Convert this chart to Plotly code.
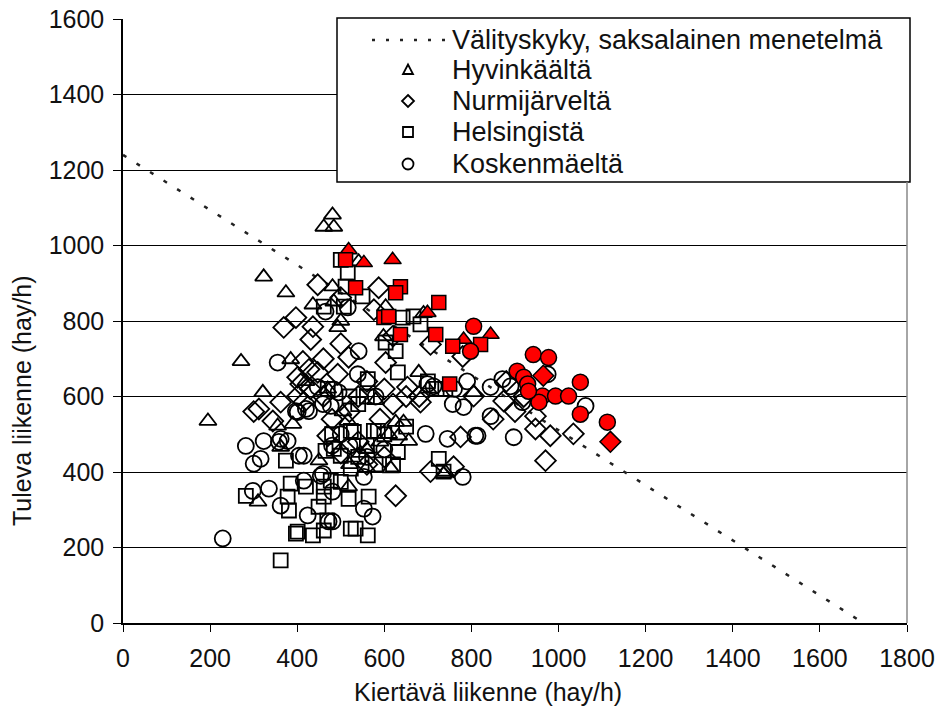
import plotly.graph_objects as go

# Capacity line (German method)
cap_x = [0, 1700]
cap_y = [1240, 0]

# Hyvinkäältä (open triangles)
hyv_x = [481, 461, 484, 323, 374, 481, 436, 541, 484, 603, 493, 271, 385, 321, 195, 355, 390, 362,
         310, 516, 598, 679, 805, 626, 644, 633, 656, 736, 615, 518, 740, 470, 580, 560, 520, 450,
         590, 700, 690, 500, 545, 610, 420, 505, 560]
hyv_y = [1081, 1049, 1049, 917, 875, 891, 843, 957, 851, 838, 783, 693, 698, 611, 535, 522, 527, 466,
         321, 535, 759, 664, 611, 532, 532, 496, 482, 395, 409, 361, 400, 620, 590, 460, 420, 430,
         480, 620, 820, 800, 450, 500, 640, 560, 410]

# Nurmijärveltä (open diamonds)
nur_x = [447, 397, 369, 436, 431, 413, 312, 362, 401, 344, 470, 587, 576, 500, 706, 518, 603, 780,
         653, 683, 805, 775, 706, 759, 626, 874, 947, 947, 981, 1034, 970, 427, 447, 493, 401, 408,
         415, 300, 540, 560, 600, 460, 520, 480, 590, 620, 650, 540, 500, 560, 600, 430, 880, 920,
         900, 500, 850, 620, 680, 460]
nur_y = [896, 809, 783, 785, 751, 693, 567, 585, 601, 535, 496, 888, 830, 862, 738, 704, 690, 706,
         625, 585, 601, 493, 401, 414, 337, 588, 548, 514, 496, 501, 430, 672, 664, 659, 651, 633,
         585, 560, 600, 640, 620, 600, 560, 540, 540, 580, 600, 480, 450, 420, 440, 620, 640, 600,
         560, 740, 540, 760, 600, 700]

# Helsingistä (open squares)
hel_x = [516, 500, 511, 550, 461, 507, 642, 667, 683, 603, 626, 631, 562, 530, 576, 585, 631, 725,
         736, 500, 518, 564, 534, 562, 374, 465, 385, 420, 282, 378, 381, 461, 461, 449, 397, 436,
         362, 523, 484, 500, 523, 477, 401, 461, 523, 469, 540, 560, 700, 720, 740, 600, 540, 620,
         480, 580, 650, 560, 470, 520]
hel_y = [928, 962, 891, 865, 838, 838, 809, 812, 791, 743, 720, 664, 646, 506, 509, 509, 453, 435,
         401, 374, 329, 335, 250, 232, 430, 456, 369, 361, 337, 335, 298, 361, 335, 308, 237, 232,
         166, 509, 461, 443, 409, 377, 242, 245, 250, 272, 580, 600, 640, 620, 620, 500, 440, 420,
         500, 420, 520, 470, 620, 600]

# Koskenmäeltä (open circles)
kos_x = [229, 282, 323, 358, 300, 316, 404, 415, 459, 415, 298, 335, 362, 424, 472, 355, 465, 516,
         541, 539, 484, 495, 447, 397, 420, 401, 427, 459, 477, 362, 378, 757, 782, 695, 745, 809,
         780, 553, 553, 573, 481, 481, 454, 699, 713, 814, 897, 844, 871, 890, 917, 1062, 975, 844,
         480, 520, 560, 600, 500, 580, 760, 790]
kos_y = [224, 469, 482, 480, 422, 435, 443, 443, 395, 377, 350, 356, 311, 285, 269, 690, 825, 836,
         720, 659, 619, 611, 625, 561, 567, 559, 561, 580, 575, 488, 482, 580, 572, 501, 488, 496,
         387, 387, 303, 282, 269, 348, 390, 633, 627, 496, 492, 625, 646, 627, 585, 575, 659, 548,
         470, 470, 440, 460, 500, 600, 620, 640]

# Red-filled observations
rtri_x = [518, 553, 619, 699, 782, 844]
rtri_y = [988, 954, 962, 822, 751, 764]
rsq_x = [511, 534, 637, 626, 725, 599, 610, 637, 718, 757, 750, 821]
rsq_y = [962, 888, 891, 875, 849, 809, 812, 764, 764, 733, 633, 738]
rcir_x = [805, 798, 942, 977, 905, 920, 929, 1050, 963, 993, 1023, 955, 1050, 1112, 931]
rcir_y = [786, 720, 711, 703, 667, 651, 633, 638, 601, 601, 601, 585, 553, 532, 614]
rdia_x = [1119, 965]
rdia_y = [480, 655]

x_ticks = [0, 200, 400, 600, 800, 1000, 1200, 1400, 1600, 1800]
y_ticks = [0, 200, 400, 600, 800, 1000, 1200, 1400, 1600]

legend_names = ["Välityskyky, saksalainen menetelmä", "Hyvinkäältä", "Nurmijärveltä",
                "Helsingistä", "Koskenmäeltä"]

FONT = "Liberation Sans, Arial, sans-serif"
TXT = "#111111"

fig = go.Figure()

fig.add_trace(go.Scatter(x=cap_x, y=cap_y, mode="lines", name=legend_names[0], showlegend=False,
                         line=dict(color="#222222", width=2.5, dash="4px,12px")))

open_series = [
    (legend_names[1], hyv_x, hyv_y, "triangle-up-open", 15),
    (legend_names[2], nur_x, nur_y, "diamond-open", 16),
    (legend_names[3], hel_x, hel_y, "square-open", 14),
    (legend_names[4], kos_x, kos_y, "circle-open", 16),
]
for name, xs, ys, sym, sz in open_series:
    fig.add_trace(go.Scatter(x=xs, y=ys, mode="markers", name=name, showlegend=False,
                             marker=dict(symbol=sym, size=sz, color="#000000",
                                         line=dict(width=1.8, color="#000000"))))

red_series = [
    (rtri_x, rtri_y, "triangle-up", 15),
    (rsq_x, rsq_y, "square", 14),
    (rcir_x, rcir_y, "circle", 16),
    (rdia_x, rdia_y, "diamond", 16),
]
for xs, ys, sym, sz in red_series:
    fig.add_trace(go.Scatter(x=xs, y=ys, mode="markers", showlegend=False,
                             marker=dict(symbol=sym, size=sz, color="#ff0000",
                                         line=dict(width=1.5, color="#000000"))))

# ---- legend (box, samples and labels) ----
L, T = 123, 19          # plot area origin in px
PW, PH = 784, 604       # plot area size in px
def px_x(p):
    return (p - L) / PW
def px_y(p):
    return (T + PH - p) / PH

row_y = [40, 70, 101, 132, 164]
sym_x = px_x(408)
shapes = [
    dict(type="rect", xref="paper", yref="paper", x0=px_x(337), x1=px_x(910), y0=px_y(182), y1=px_y(18),
         fillcolor="white", line=dict(color="#000000", width=1.5), layer="above"),
    dict(type="line", xref="paper", yref="paper", x0=px_x(372), x1=px_x(449), y0=px_y(row_y[0]),
         y1=px_y(row_y[0]), line=dict(color="#222222", width=2.5, dash="3px,11px"), layer="above"),
    dict(type="path", xref="paper", yref="paper", xsizemode="pixel", ysizemode="pixel",
         xanchor=sym_x, yanchor=px_y(row_y[1]), path="M-5,-4 L5,-4 L0,5.5 Z",
         line=dict(color="#000000", width=1.8), layer="above"),
    dict(type="path", xref="paper", yref="paper", xsizemode="pixel", ysizemode="pixel",
         xanchor=sym_x, yanchor=px_y(row_y[2]), path="M0,6 L6,0 L0,-6 L-6,0 Z",
         line=dict(color="#000000", width=1.8), layer="above"),
    dict(type="rect", xref="paper", yref="paper", xsizemode="pixel", ysizemode="pixel",
         xanchor=sym_x, yanchor=px_y(row_y[3]), x0=-5, x1=5, y0=-5, y1=5,
         line=dict(color="#000000", width=1.8), layer="above"),
    dict(type="circle", xref="paper", yref="paper", xsizemode="pixel", ysizemode="pixel",
         xanchor=sym_x, yanchor=px_y(row_y[4]), x0=-5.5, x1=5.5, y0=-5.5, y1=5.5,
         line=dict(color="#000000", width=1.8), layer="above"),
    # right frame line of the plot area
    dict(type="line", xref="paper", yref="paper", x0=1, x1=1, y0=0, y1=px_y(182),
         line=dict(color="#888888", width=1.5)),
]

annotations = [
    dict(text="Kiertävä liikenne (hay/h)", xref="paper", yref="paper", x=px_x(488), y=px_y(692),
         xanchor="center", yanchor="middle", showarrow=False,
         font=dict(size=25, color=TXT, family=FONT)),
    dict(text="Tuleva liikenne (hay/h)", xref="paper", yref="paper", x=px_x(22), y=px_y(401),
         xanchor="center", yanchor="middle", showarrow=False, textangle=-90,
         font=dict(size=25, color=TXT, family=FONT)),
]
for name, ry in zip(legend_names, row_y):
    annotations.append(dict(text=name, xref="paper", yref="paper", x=px_x(450), y=px_y(ry),
                            xanchor="left", yanchor="middle", showarrow=False,
                            font=dict(size=27, color=TXT, family=FONT)))

fig.update_layout(
    width=935, height=720,
    margin=dict(l=L, r=935 - L - PW, t=T, b=720 - T - PH),
    paper_bgcolor="white", plot_bgcolor="white",
    showlegend=False,
    font=dict(family=FONT, size=25, color=TXT),
    xaxis=dict(range=[0, 1800], tickvals=x_ticks, ticks="outside", ticklen=7, tickwidth=1.3,
               tickcolor="#000000", showline=True, linecolor="#000000", linewidth=1.5,
               showgrid=False, zeroline=False, automargin=False, ticklabelstandoff=5,
               tickfont=dict(size=25, color=TXT, family=FONT)),
    yaxis=dict(range=[0, 1600], tickvals=y_ticks, ticks="outside", ticklen=8, tickwidth=1.3,
               tickcolor="#000000", showline=True, linecolor="#000000", linewidth=1.5,
               showgrid=True, gridcolor="#000000", gridwidth=1.3, zeroline=False, automargin=False,
               ticklabelstandoff=4, tickfont=dict(size=25, color=TXT, family=FONT)),
    shapes=shapes,
    annotations=annotations,
)

fig.write_html("out.html")
